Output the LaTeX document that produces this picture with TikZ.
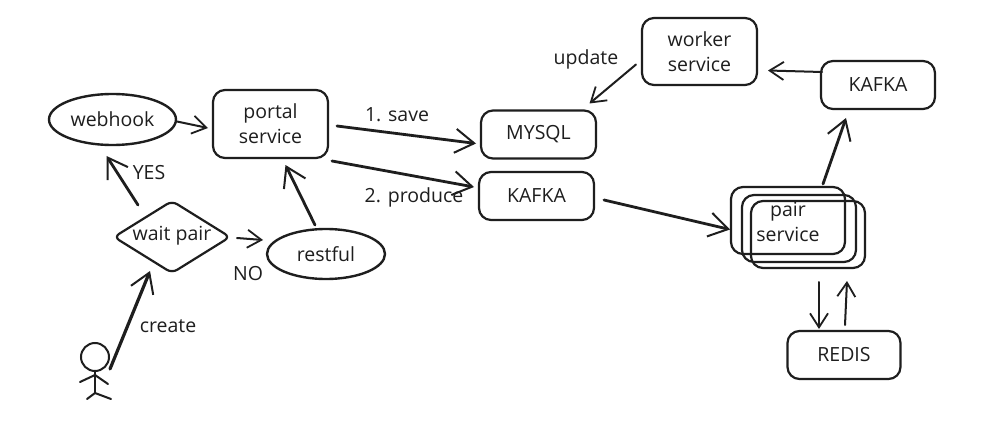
\documentclass[tikz,border=0pt]{standalone}
\usepackage{fontspec}
\setmainfont{Open Sans}
\usetikzlibrary{shapes.geometric,arrows.meta}
\definecolor{ink}{HTML}{1E1E1E}
\tikzset{
  txt/.style={text=ink,font=\fontsize{19.5}{25}\selectfont,align=center,inner sep=0pt,outer sep=0pt},
  box/.style={draw=ink,line width=2.2pt,rounded corners=12pt,minimum width=#1,inner sep=0pt,outer sep=0pt,txt},
  oval/.style={draw=ink,line width=2.4pt,ellipse,inner sep=0pt,outer sep=0pt,txt},
  arr/.style={draw=ink,line width=2pt,line cap=round,-{Straight Barb[length=14pt,width=18pt,line width=1.8pt]}},
  harr/.style={arr,line width=2.8pt,-{Straight Barb[length=19pt,width=24pt,line width=2pt]}},
  stick/.style={draw=ink,line width=2pt,line cap=round,line join=round}
}
\begin{document}
\begin{tikzpicture}[x=1pt,y=-1pt]
\useasboundingbox[fill=white] (0,0) rectangle (985,433);
% shapes
\node[box=115pt,minimum height=68pt] (portal) at (270.5,124) {portal\\service};
\node[oval,minimum width=127pt,minimum height=51pt] (webhook) at (112.5,119.5) {webhook};
\node[oval,minimum width=118pt,minimum height=50pt] (restful) at (326,254) {restful};
\node[draw=ink,line width=2.2pt,diamond,rounded corners=6pt,minimum width=116pt,minimum height=72pt,inner sep=0pt,outer sep=0pt] (wait) at (172,237) {};
\node[txt] (waittxt) at (172,236) {wait pair};
\node[box=115pt,minimum height=48pt] (mysql) at (538.5,134.5) {MYSQL};
\node[box=115pt,minimum height=48pt] (kafkaa) at (536.5,196) {KAFKA};
\node[box=115pt,minimum height=67pt] (worker) at (699.5,51.5) {worker\\service};
\node[box=114pt,minimum height=48pt] (kafkab) at (878,85) {KAFKA};
\node[box=113pt,minimum height=48pt] (redis) at (844,355) {REDIS};
\node[box=114pt,minimum height=67pt] (pairA) at (788,220.5) {};
\node[box=114pt,minimum height=67pt] (pairB) at (799,228.5) {};
\node[box=114pt,minimum height=67pt] (pairC) at (808,234.5) {};
\node[txt] (pairtxt) at (788,222) {pair\\service};
% person
\node[draw=ink,line width=2pt,circle,minimum size=28pt,inner sep=0pt,outer sep=0pt] (head) at (95,357) {};
\coordinate (hip) at (95,393);
\draw[stick] (head.south) -- (hip);
\draw[stick] (80,382) -- (95,375) -- (108,384);
\draw[stick] (87,399) -- (hip) -- (111,399);
% connectors
\draw[arr] ([shift={(1,2)}]webhook.east) -- ([shift={(-5,4)}]portal.west);
\draw[harr] ([shift={(9,2)}]portal.east) -- ([shift={(-5,9)}]mysql.west);
\draw[harr] ([shift={(4,37)}]portal.east) -- ([shift={(-5,-9)}]kafkaa.west);
\draw[harr] ([shift={(10,4)}]kafkaa.east) -- ([shift={(-1,9)}]pairA.west);
\draw[harr] ([shift={(35,-3)}]pairA.north) -- ([shift={(-32,9)}]kafkab.south);
\draw[arr] ([shift={(1,-13)}]kafkab.west) -- ([shift={(11,19)}]worker.east);
\draw[arr] ([shift={(-6,13)}]worker.west) -- ([shift={(51,-7)}]mysql.north);
\draw[harr] ([shift={(-34,4)}]wait.north) -- ([shift={(-6,11)}]webhook.south);
\draw[arr] ([shift={(7,1)}]wait.east) -- ([shift={(-4,-14)}]restful.west);
\draw[harr] ([shift={(-11,-4)}]restful.north) -- ([shift={(15,7)}]portal.south);
\draw[harr,line width=3.2pt] ([shift={(15,12)}]head.center) -- ([shift={(-22,-2)}]wait.south);
\draw[arr] ([shift={(31,28)}]pairA.south) -- ([shift={(-25,-2)}]redis.north);
\draw[arr] ([shift={(1,-6)}]redis.north) -- ([shift={(59,27)}]pairA.south);
% labels
\node[txt] (lyes) at (149,173) {YES};
\node[txt] (lno) at (248,274) {NO};
\node[txt] (lcreate) at (168,326) {create};
\node[txt] (lsave) at (397,115) {1. save};
\node[txt] (lprod) at (414,197) {2. produce};
\node[txt] (lupd) at (586,59) {update};
\end{tikzpicture}
\end{document}
